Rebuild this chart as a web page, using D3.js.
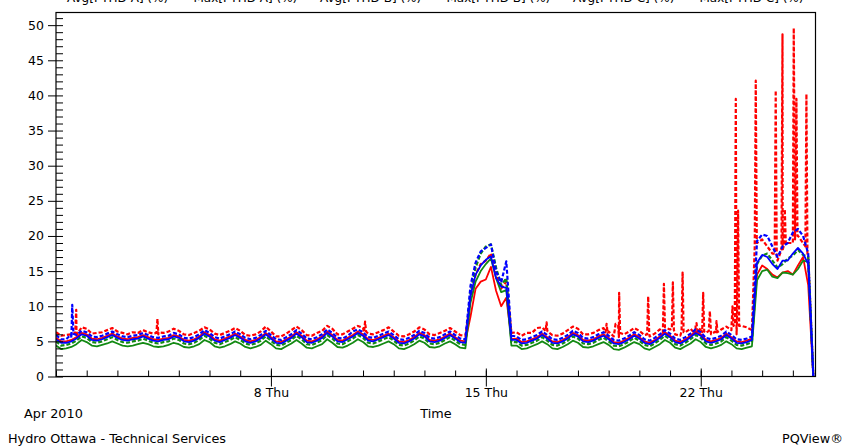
<!DOCTYPE html>
<html>
<head>
<meta charset="utf-8">
<script src="https://cdn.jsdelivr.net/npm/d3@7"></script>
<style>
  body { margin: 0; background: #fff; }
  svg { display: block; font-family: "DejaVu Sans", Verdana, sans-serif; }
</style>
</head>
<body>
<div class="chart"></div>
<script>
// samples every 4 hours from Apr 1 2010 00:00 (one row per day: 0h 4h 8h 12h 16h 20h)
const startDate = Date.UTC(2010, 3, 1);
const hours = d3.range(0, 593, 4);

const legendNames = ["Avg[I THD A] (%)", "Max[I THD A] (%)", "Avg[I THD B] (%)",
                     "Max[I THD B] (%)", "Avg[I THD C] (%)", "Max[I THD C] (%)"];

const avgA = [
  5.5, 5.0, 5.0, 5.2, 5.6, 6.2,
  6.0, 5.4, 5.3, 5.5, 5.8, 6.1,
  5.7, 5.4, 5.3, 5.5, 5.6, 5.9,
  5.6, 5.3, 5.2, 5.4, 5.5, 5.9,
  5.7, 5.2, 5.1, 5.3, 5.7, 6.3,
  5.9, 5.3, 5.1, 5.4, 5.7, 6.1,
  5.7, 5.2, 5.0, 5.2, 5.6, 6.2,
  5.6, 5.0, 4.9, 5.3, 5.7, 6.3,
  5.8, 5.1, 5.0, 5.3, 5.7, 6.4,
  5.9, 5.2, 5.1, 5.5, 5.9, 6.4,
  6.0, 5.3, 5.2, 5.5, 5.8, 6.1,
  5.6, 5.0, 4.9, 5.2, 5.6, 6.2,
  5.9, 5.2, 5.1, 5.3, 5.7, 6.1,
  5.6, 5.1, 5.0, 8.5, 12.5, 13.5,
  13.8, 15.6, 12.2, 10.0, 11.2, 5.3,
  5.4, 4.9, 5.0, 5.3, 5.6, 6.1,
  5.6, 5.0, 4.9, 5.2, 5.6, 6.2,
  5.9, 5.2, 5.1, 5.3, 5.7, 6.0,
  5.5, 4.9, 4.8, 5.1, 5.5, 6.0,
  5.6, 5.0, 4.8, 5.2, 5.7, 6.3,
  5.8, 5.1, 4.9, 5.3, 5.8, 6.4,
  6.0, 5.2, 5.0, 5.2, 5.5, 6.1,
  5.6, 5.0, 4.9, 5.1, 5.4, 14.5,
  15.8, 15.3, 14.5, 14.1, 14.8, 15.0,
  14.5, 15.8, 17.0, 13.0, 0
];

const maxA = [
  6.3, 5.8, 5.9, 6.0, 6.4, 7.0,
  6.8, 6.1, 6.2, 6.3, 6.6, 6.9,
  6.4, 6.2, 6.0, 6.3, 6.2, 6.6,
  6.3, 6.1, 6.0, 6.2, 6.4, 6.8,
  6.5, 6.0, 5.9, 6.2, 6.5, 7.0,
  6.7, 6.1, 5.9, 6.2, 6.5, 6.9,
  6.5, 5.9, 5.8, 6.0, 6.4, 7.1,
  6.4, 5.7, 5.7, 6.1, 6.6, 7.1,
  6.6, 5.9, 5.8, 6.2, 6.5, 7.2,
  6.8, 6.0, 6.0, 6.4, 6.8, 7.2,
  6.9, 6.1, 6.0, 6.3, 6.6, 7.0,
  6.4, 5.8, 5.7, 6.0, 6.4, 7.0,
  6.7, 6.0, 5.9, 6.2, 6.5, 6.9,
  6.4, 5.9, 5.8, 11.0, 14.5, 16.0,
  16.5, 17.5, 14.5, 12.5, 13.5, 6.2,
  6.3, 5.8, 6.2, 6.2, 6.9, 7.0,
  6.6, 5.9, 5.8, 6.1, 6.6, 7.1,
  6.8, 6.0, 6.0, 6.2, 6.6, 6.9,
  6.4, 5.7, 5.6, 6.0, 6.4, 6.9,
  6.5, 5.9, 5.7, 6.1, 6.7, 7.2,
  6.7, 6.0, 5.8, 6.3, 6.8, 7.4,
  6.9, 6.2, 6.0, 6.3, 6.7, 7.1,
  6.6, 6.0, 7.2, 7.0, 6.6, 19.0,
  19.5, 18.5, 17.5, 16.5, 18.0, 19.0,
  19.0, 20.0, 19.0, 17.0, 0
];

// short hourly peaks of Max A: [hour, value]
const maxASpikes = [
  [15.0, 6.2], [15.8, 9.5], [16.6, 6.0],
  [78.5, 6.2], [79.3, 8.2], [80.1, 6.3],
  [240.8, 6.3], [241.6, 7.8], [242.4, 6.4],
  [382.7, 6.5], [383.5, 7.7], [384.3, 6.4],
  [429.6, 6.3], [430.4, 7.5], [431.2, 6.2],
  [436.6, 6.4], [437.4, 7.5], [439.4, 7.3], [440.2, 11.9], [441.0, 6.2],
  [462.1, 6.0], [462.9, 11.4], [463.7, 6.1],
  [474.4, 6.3], [475.2, 13.2], [476.0, 7.0],
  [481.4, 6.8], [482.2, 13.4], [483.0, 6.6],
  [489.0, 6.4], [489.8, 14.8], [490.6, 6.3],
  [499.9, 6.0], [500.7, 7.6], [501.5, 6.2],
  [505.1, 6.3], [505.9, 11.9], [506.7, 6.4],
  [510.3, 6.5], [511.1, 9.3], [511.9, 6.6],
  [515.5, 6.4], [516.3, 7.9], [517.1, 6.3],
  [528.0, 7.0], [528.8, 10.0], [529.6, 7.2],
  [530.6, 7.5], [531.4, 39.5], [532.3, 8.0], [533.2, 23.6], [534.0, 7.2],
  [546.2, 18.5], [547.0, 42.1], [547.8, 19.0],
  [561.8, 17.5], [562.6, 40.7], [563.4, 17.0],
  [567.1, 18.0], [567.9, 48.7], [568.8, 18.5], [569.7, 23.8], [570.5, 18.8],
  [575.9, 19.0], [576.7, 49.6], [577.7, 19.5], [578.8, 39.5], [579.6, 20.0],
  [585.8, 18.5], [586.6, 40.2], [587.4, 17.5]
];

const avgB = [
  4.4, 3.9, 4.0, 4.2, 4.6, 5.2,
  4.9, 4.4, 4.3, 4.5, 4.7, 5.0,
  4.7, 4.4, 4.3, 4.4, 4.6, 4.8,
  4.6, 4.3, 4.2, 4.3, 4.5, 4.8,
  4.6, 4.2, 4.1, 4.3, 4.6, 5.2,
  4.9, 4.3, 4.1, 4.3, 4.6, 5.0,
  4.7, 4.2, 4.0, 4.2, 4.5, 5.1,
  4.6, 4.0, 3.9, 4.3, 4.7, 5.2,
  4.7, 4.1, 4.0, 4.3, 4.6, 5.3,
  4.8, 4.2, 4.1, 4.4, 4.8, 5.3,
  4.9, 4.3, 4.2, 4.4, 4.7, 5.0,
  4.6, 4.0, 3.9, 4.2, 4.6, 5.1,
  4.8, 4.2, 4.1, 4.3, 4.7, 5.0,
  4.6, 4.1, 4.0, 10.5, 13.5, 15.0,
  16.0, 16.8, 14.0, 12.0, 12.3, 4.4,
  4.4, 3.9, 4.0, 4.3, 4.6, 5.0,
  4.6, 4.0, 3.9, 4.2, 4.6, 5.1,
  4.8, 4.2, 4.1, 4.3, 4.6, 4.9,
  4.5, 3.9, 3.8, 4.1, 4.5, 4.9,
  4.6, 4.0, 3.8, 4.2, 4.6, 5.2,
  4.8, 4.1, 3.9, 4.3, 4.7, 5.3,
  4.9, 4.2, 4.0, 4.2, 4.5, 5.0,
  4.6, 4.0, 3.9, 4.1, 4.3, 13.7,
  15.0, 15.2, 14.2, 14.0, 14.8, 14.7,
  14.5, 15.3, 16.5, 16.3, 0
];

const maxB = [
  5.0, 4.4, 4.5, 4.7, 5.1, 5.7,
  5.5, 4.9, 4.8, 5.0, 5.3, 5.6,
  5.2, 4.9, 4.8, 5.0, 5.1, 5.4,
  5.1, 4.8, 4.7, 4.9, 5.0, 5.4,
  5.2, 4.7, 4.6, 4.8, 5.2, 5.8,
  5.4, 4.8, 4.6, 4.9, 5.2, 5.6,
  5.2, 4.7, 4.5, 4.7, 5.1, 5.7,
  5.1, 4.5, 4.4, 4.8, 5.2, 5.8,
  5.3, 4.6, 4.5, 4.8, 5.2, 5.9,
  5.4, 4.7, 4.6, 5.0, 5.4, 5.9,
  5.5, 4.8, 4.7, 5.0, 5.3, 5.6,
  5.1, 4.5, 4.4, 4.7, 5.1, 5.7,
  5.4, 4.7, 4.6, 4.8, 5.2, 5.6,
  5.1, 4.6, 4.5, 12.0, 15.5, 17.5,
  18.5, 18.8, 15.5, 13.0, 14.0, 4.9,
  4.9, 4.4, 4.5, 4.8, 5.1, 5.6,
  5.1, 4.5, 4.4, 4.7, 5.1, 5.7,
  5.4, 4.7, 4.6, 4.8, 5.2, 5.5,
  5.0, 4.4, 4.3, 4.6, 5.0, 5.5,
  5.1, 4.5, 4.3, 4.7, 5.2, 5.8,
  5.3, 4.6, 4.4, 4.8, 5.3, 5.9,
  5.5, 4.7, 4.5, 4.7, 5.0, 5.6,
  5.1, 4.5, 4.4, 4.6, 4.9, 16.0,
  17.2, 17.5, 16.5, 15.5, 16.0, 16.8,
  17.2, 18.0, 17.3, 17.0, 0
];

const avgC = [
  5.3, 4.8, 4.8, 5.0, 5.4, 6.0,
  5.8, 5.2, 5.1, 5.3, 5.6, 5.9,
  5.5, 5.2, 5.1, 5.3, 5.4, 5.7,
  5.4, 5.1, 5.0, 5.2, 5.3, 5.7,
  5.5, 5.0, 4.9, 5.1, 5.5, 6.1,
  5.7, 5.1, 4.9, 5.2, 5.5, 5.9,
  5.5, 5.0, 4.8, 5.0, 5.4, 6.0,
  5.4, 4.8, 4.7, 5.1, 5.5, 6.1,
  5.6, 4.9, 4.8, 5.1, 5.5, 6.2,
  5.7, 5.0, 4.9, 5.3, 5.7, 6.2,
  5.8, 5.1, 5.0, 5.3, 5.6, 5.9,
  5.4, 4.8, 4.7, 5.0, 5.4, 6.0,
  5.7, 5.0, 4.9, 5.1, 5.5, 5.9,
  5.4, 4.9, 4.8, 11.5, 14.5, 15.8,
  16.6, 17.1, 14.0, 12.8, 12.6, 5.2,
  5.2, 4.7, 4.8, 5.1, 5.4, 5.9,
  5.4, 4.8, 4.7, 5.0, 5.4, 6.0,
  5.7, 5.0, 4.9, 5.1, 5.5, 5.8,
  5.3, 4.7, 4.6, 4.9, 5.3, 5.8,
  5.4, 4.8, 4.6, 5.0, 5.5, 6.1,
  5.6, 4.9, 4.7, 5.1, 5.6, 6.2,
  5.8, 5.0, 4.8, 5.0, 5.3, 5.9,
  5.4, 4.8, 4.7, 4.9, 5.2, 16.2,
  17.3, 17.0, 16.0, 15.3, 16.5, 16.5,
  17.5, 18.3, 17.5, 16.0, 0
];

const maxC = [
  5.9, 5.3, 5.3, 5.5, 5.9, 6.5,
  6.3, 5.7, 5.6, 5.8, 6.1, 6.4,
  6.0, 5.7, 5.6, 5.8, 5.9, 6.2,
  5.9, 5.6, 5.5, 5.7, 5.8, 6.2,
  6.0, 5.5, 5.4, 5.6, 6.0, 6.6,
  6.2, 5.6, 5.4, 5.7, 6.0, 6.4,
  6.0, 5.5, 5.3, 5.5, 5.9, 6.5,
  5.9, 5.3, 5.2, 5.6, 6.0, 6.6,
  6.1, 5.4, 5.3, 5.6, 6.0, 6.7,
  6.2, 5.5, 5.4, 5.8, 6.4, 6.7,
  6.3, 5.6, 5.5, 5.8, 6.1, 6.4,
  5.9, 5.3, 5.2, 5.5, 5.9, 6.5,
  6.2, 5.5, 5.4, 5.6, 6.0, 6.4,
  5.9, 5.4, 5.3, 12.9, 16.2, 17.8,
  18.3, 18.8, 15.0, 13.4, 16.4, 5.8,
  5.7, 5.2, 5.3, 5.6, 5.9, 6.4,
  5.9, 5.3, 5.2, 5.5, 5.9, 6.5,
  6.2, 5.5, 5.4, 5.6, 6.0, 6.3,
  5.8, 5.2, 5.1, 5.4, 5.8, 6.3,
  5.9, 5.3, 5.1, 5.5, 6.0, 6.6,
  6.1, 5.4, 5.2, 5.6, 6.1, 6.7,
  6.3, 5.5, 5.3, 5.5, 5.8, 6.4,
  5.9, 5.3, 5.2, 5.4, 5.7, 19.3,
  20.2, 20.0, 18.5, 17.0, 18.5, 19.0,
  20.5, 21.0, 20.0, 17.5, 0
];

const maxCSpikes = [[11.8, 6.0], [12.7, 10.2], [13.6, 6.1]];

const yMajorTicks = d3.range(0, 51, 5);
const xLabelDays = [8, 15, 22];

document.addEventListener("DOMContentLoaded", function() {

    const width = 844, height = 447;
    const left = 56, right = 815.5, top = 12.5, bottom = 376.5;

    const svg = d3.select(".chart")
        .append("svg")
        .attr("width", width)
        .attr("height", height);

    const x = d3.scaleUtc()
        .domain([new Date(startDate), new Date(startDate + 593.7 * 3600e3)])
        .range([left, right]);

    const y = d3.scaleLinear()
        .domain([0, 51.8])
        .range([bottom, top]);

    const toDate = h => new Date(startDate + h * 3600e3);

    function series(values, spikes) {
        const pts = hours.map((h, i) => [h, values[i]]);
        return pts.concat(spikes || []).sort((a, b) => a[0] - b[0]);
    }

    const lines = [
        { key: "avgA", data: series(avgA), color: "#ff0000", dash: null },
        { key: "maxA", data: series(maxA, maxASpikes), color: "#ff0000", dash: "4,2" },
        { key: "avgB", data: series(avgB), color: "#138a13", dash: null },
        { key: "maxB", data: series(maxB), color: "#138a13", dash: "4,2" },
        { key: "avgC", data: series(avgC), color: "#0000ff", dash: null },
        { key: "maxC", data: series(maxC, maxCSpikes), color: "#0000ff", dash: "4,2" }
    ];

    // legend (sits above the plot, mostly cut off by the top edge as in the original export)
    svg.append("g")
        .selectAll("text")
        .data(legendNames)
        .enter()
        .append("text")
        .attr("x", (d, i) => 67 + i * 126.5)
        .attr("y", 1.5)
        .attr("font-size", 12)
        .attr("fill", "#000")
        .text(d => d);

    svg.append("clipPath")
        .attr("id", "plot")
        .append("rect")
        .attr("x", left)
        .attr("y", top)
        .attr("width", right - left)
        .attr("height", bottom - top);

    const line = d3.line()
        .x(d => x(toDate(d[0])))
        .y(d => y(d[1]));

    svg.append("g")
        .attr("clip-path", "url(#plot)")
        .selectAll("path")
        .data(lines)
        .enter()
        .append("path")
        .attr("d", d => line(d.data))
        .attr("fill", "none")
        .attr("stroke", d => d.color)
        .attr("stroke-width", d => d.dash ? 2.2 : 1.8)
        .attr("stroke-dasharray", d => d.dash)
        .attr("stroke-linejoin", "round");

    // frame
    svg.append("rect")
        .attr("x", left)
        .attr("y", top)
        .attr("width", right - left)
        .attr("height", bottom - top)
        .attr("fill", "none")
        .attr("stroke", "#000")
        .attr("stroke-width", 1.2);

    // y axis: labels + outer major ticks, inner minor ticks
    svg.append("g")
        .attr("class", "axis")
        .attr("transform", `translate(${left},0)`)
        .call(d3.axisLeft(y).tickValues(yMajorTicks).tickSize(8).tickPadding(4))
        .call(g => g.select(".domain").remove());

    svg.append("g")
        .attr("class", "axis")
        .attr("transform", `translate(${left},0)`)
        .call(d3.axisRight(y).tickValues(d3.range(0, 52, 1)).tickSize(7).tickFormat(""))
        .call(g => g.select(".domain").remove());

    // x axis: day ticks inside, labelled Thursdays outside
    const labelDates = xLabelDays.map(d => new Date(Date.UTC(2010, 3, d)));

    svg.append("g")
        .attr("class", "axis")
        .attr("transform", `translate(0,${bottom})`)
        .call(d3.axisTop(x).ticks(d3.utcDay.every(1)).tickSize(6).tickFormat(""))
        .call(g => g.select(".domain").remove());

    svg.append("g")
        .attr("class", "axis")
        .attr("transform", `translate(0,${bottom})`)
        .call(d3.axisBottom(x).tickValues(labelDates).tickSize(10).tickPadding(2)
            .tickFormat(d3.utcFormat("%-d %a")))
        .call(g => g.select(".domain").remove())
        .call(g => g.selectAll(".tick line").attr("y1", -8));

    svg.selectAll(".axis text")
        .attr("font-size", 12.5)
        .attr("font-family", "DejaVu Sans, Verdana, sans-serif")
        .attr("fill", "#000");
    svg.selectAll(".axis line")
        .attr("stroke", "#000");

    // footer texts
    const footer = [
        { text: "Apr 2010", x: 24, y: 418, anchor: "start" },
        { text: "Time", x: 436, y: 418, anchor: "middle" },
        { text: "Hydro Ottawa - Technical Services", x: 8, y: 443, anchor: "start" },
        { text: "PQView\u00ae", x: 843, y: 443, anchor: "end" }
    ];

    svg.append("g")
        .selectAll("text")
        .data(footer)
        .enter()
        .append("text")
        .attr("x", d => d.x)
        .attr("y", d => d.y)
        .attr("text-anchor", d => d.anchor)
        .attr("font-size", 12.8)
        .attr("fill", "#000")
        .text(d => d.text);
});
</script>
</body>
</html>
